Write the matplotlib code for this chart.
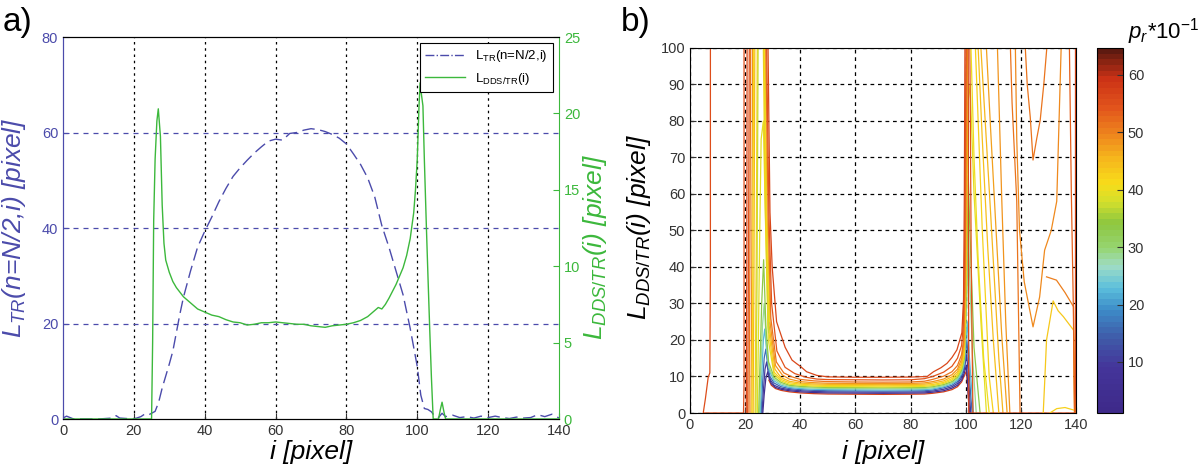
import numpy as np
import matplotlib
matplotlib.use("Agg")
import matplotlib.pyplot as plt
from matplotlib.colors import LinearSegmentedColormap, Normalize
from matplotlib.cm import ScalarMappable
from matplotlib.lines import Line2D

plt.rcParams['font.family'] = ['Liberation Sans', 'DejaVu Sans']
plt.rcParams['mathtext.fontset'] = 'custom'
plt.rcParams['mathtext.rm'] = 'Liberation Sans'
plt.rcParams['mathtext.it'] = 'Liberation Sans:italic'

# ---- panel a data ----
tr_i = [0, 1, 2, 3, 5, 10, 14, 15, 16, 20, 22, 23, 24, 25, 26, 27, 28, 30, 31, 33, 34, 36, 38, 40,
        42, 44, 46, 48, 50, 52, 54, 56, 58, 60, 62, 64, 66, 68, 70, 72, 74, 76, 78, 80, 82, 84, 86,
        88, 90, 92, 94, 96, 98, 99, 100, 101, 102, 103, 104, 105, 106, 107, 108, 110, 112, 114, 116,
        118, 120, 122, 124, 126, 128, 130, 132, 134, 136, 138, 140]
tr_L = [0.2, 0.6, 0.3, 0, 0, 0, 0.2, 0.7, 0.2, 0, 0.5, 1.0, 0.8, 1.2, 1.6, 3.5, 6.5, 11.5, 14.2, 22,
        25.5, 31, 36, 39.3, 42.3, 45.5, 48.3, 50.8, 52.6, 54.2, 55.7, 57, 58.2, 58.6, 58.4, 59.8, 60,
        60.5, 60.8, 60.6, 60.2, 59.6, 58.8, 57.6, 55.5, 53.3, 50.5, 46.5, 40.5, 36, 31, 26, 19, 15,
        11, 5, 2.2, 2, 1.5, 0.5, 0.3, 1.2, 0.5, 0.8, 0.3, 0.5, 0.2, 0.6, 0.3, 0.6, 0.3, 0.1, 0.4,
        0.2, 0.3, 0.9, 0.5, 1.0, 0.2]

dds_i = [0, 10, 20, 25, 25.3, 25.6, 26, 26.5, 26.9, 27.5, 28, 28.5, 29, 30, 31, 32, 33, 34, 36, 38,
         40, 42, 44, 46, 48, 50, 52, 54, 56, 58, 60, 62, 64, 66, 68, 70, 72, 74, 76, 78, 80, 82, 84,
         86, 88, 89, 90, 91, 92, 94, 96, 97, 98, 99, 99.5, 100, 100.5, 100.8, 101.2, 101.6, 102,
         102.6, 103, 103.5, 104, 104.5, 106, 106.5, 107, 107.5, 108, 110, 140]
dds_L = [0, 0, 0, 0, 5, 13, 17, 19.5, 20.3, 18.5, 14, 11.5, 10.4, 9.6, 9.0, 8.6, 8.3, 8.0, 7.6, 7.2,
         7.0, 6.8, 6.7, 6.5, 6.35, 6.3, 6.15, 6.2, 6.3, 6.3, 6.35, 6.3, 6.25, 6.2, 6.2, 6.1, 6.05,
         6.0, 6.1, 6.15, 6.2, 6.3, 6.45, 6.7, 7.1, 7.3, 7.2, 7.5, 7.9, 8.8, 9.9, 10.7, 11.8, 13.5,
         15, 17, 20.5, 22, 21.2, 20.5, 17, 12.4, 9.5, 6, 2.7, 0, 0, 0.6, 1.1, 0.5, 0, 0, 0]

# ---- panel b data: contour lines of p_r*10^-1 ----
cont_levels = [55, 57, 5, 10, 16, 22, 28, 33, 39, 42, 45, 48, 51, 54, 56,
               49, 51, 43, 50, 42, 53, 40, 44, 47, 37, 41]
cont_i = [
    [7.4, 7.4, 7.2, 6.6, 5.6, 4.8, 19.4, 19.6, 19.6],
    [28.6, 29.5, 31, 33, 36, 40, 45, 50, 60, 70, 80, 85, 88, 92, 95, 97, 98.5, 99.5, 100.3, 100.8, 101.3],
    [26.4, 26.9, 27.5, 28.2, 28.7, 29.5, 31, 33, 36, 40, 45, 50, 60, 70, 80, 85, 88, 92, 95, 97, 98.5, 99.5, 100.2, 100.6, 101, 101.4],
    [26.1, 26.6, 27.2, 27.8, 28.4, 29.2, 30.5, 33, 36, 40, 45, 50, 60, 70, 80, 85, 88, 92, 95, 97, 98.5, 99.5, 100.3, 100.8, 101.3, 101.8],
    [25.8, 26.3, 26.9, 27.5, 28.2, 29, 30.5, 33, 36, 40, 45, 50, 60, 70, 80, 85, 88, 92, 95, 97, 98.5, 99.5, 100.4, 100.9, 101.6, 102.3],
    [25.5, 26.0, 26.6, 27.1, 27.9, 28.8, 30.5, 33, 36, 40, 45, 50, 60, 70, 80, 85, 88, 92, 95, 97, 98.5, 99.5, 100.5, 101.0, 101.9, 102.8],
    [25.2, 25.7, 26.3, 26.9, 27.7, 28.6, 30.5, 33, 36, 40, 45, 50, 60, 70, 80, 85, 88, 92, 95, 97, 98.5, 99.5, 100.4, 100.9, 101.4, 102.5, 103.8],
    [24.9, 25.4, 26.0, 26.7, 27.5, 28.5, 30.5, 33, 36, 40, 45, 50, 60, 70, 80, 85, 88, 92, 95, 97, 98.5, 99.5, 100.3, 100.9, 101.5, 103, 105.2],
    [24.4, 24.8, 25.3, 25.8, 26.6, 27.3, 28.4, 30.5, 33, 36, 40, 45, 50, 60, 70, 80, 85, 88, 92, 95, 97, 98.5, 99.5, 100.2, 100.8, 101.6, 103, 105.5, 107.5],
    [23.6, 24.0, 24.4, 25.2, 26.6, 27.2, 28.3, 30.5, 33, 36, 40, 45, 50, 60, 70, 80, 85, 88, 92, 95, 97, 98.5, 99.5, 100.1, 100.6, 102, 103.5, 106, 108.5, 110],
    [22.9, 23.2, 23.5, 25, 26.9, 27.6, 28.7, 30.8, 33, 36, 40, 45, 50, 60, 70, 80, 85, 88, 92, 95, 97, 98.5, 99.4, 100.0, 100.5, 102, 105.5, 109, 112, 113.5],
    [22.1, 22.4, 22.7, 25, 27.2, 27.9, 29, 31, 33.5, 36, 40, 45, 50, 60, 70, 80, 85, 88, 92, 95, 97, 98.5, 99.3, 99.9, 100.4, 104, 111.5, 113, 114.5, 116],
    [21.4, 21.7, 22.0, 25, 27.5, 28.3, 29.3, 31.3, 34, 37, 40, 45, 50, 60, 70, 80, 85, 88, 92, 95, 97, 98.5, 99.2, 99.8, 100.3, 110, 116.2, 116.8, 118.5, 119.7],
    [20.9, 21.2, 21.5, 25, 27.8, 28.6, 29.6, 31.5, 34.5, 38, 42, 46, 50, 60, 70, 80, 85, 88, 92, 95, 97, 98.5, 99.1, 99.6, 100.1, 100.8, 101.5, 102, 102.6],
    [20.4, 20.6, 20.7, 25, 28.3, 29.0, 29.8, 31.4, 34.5, 37, 38.7, 40, 42.3, 46, 50, 60, 70, 80, 86, 88.3, 91, 93.2, 95, 96.8, 98.6, 99.2, 99.5, 99.7, 100.2, 100.9, 101.1, 139.8, 139.8],
    [118, 118.5, 119.5, 121.2, 124.4, 126.8, 128.6, 131, 133, 134.6],
    [121.6, 122.3, 123.4, 124.4, 125.7, 127, 128.3, 129.4],
    [128.1, 128.6, 129.3, 131.7, 133.5, 135.4, 139.1, 139.5],
    [129.3, 132.9, 136, 139.1, 139.4],
    [130.5, 133, 136, 139.2],
    [137.6, 138.3, 139, 139.5],
    [101.9, 103, 104.5, 106.5, 108.5],
    [104.5, 106, 108, 110, 112],
    [107.5, 109, 111, 113, 115],
    [23.9, 24.3, 24.7, 25.5, 26.9, 27.5, 28.5],
    [22.5, 22.8, 23.1, 25, 27.0, 27.7, 28.8],
]
cont_L = [
    [100, 40, 11, 9.8, 4, 0, 0, 8, 100],
    [9.0, 7.6, 6.7, 6.2, 5.8, 5.5, 5.3, 5.2, 5.15, 5.1, 5.15, 5.2, 5.4, 5.8, 6.4, 7.2, 8.5, 10.3, 11.5, 6, 0],
    [0, 5, 9.5, 11.3, 9.5, 8.0, 7.0, 6.5, 6.1, 5.8, 5.6, 5.5, 5.45, 5.4, 5.45, 5.5, 5.7, 6.1, 6.8, 7.6, 9, 11, 13, 9, 4, 0],
    [0, 6, 12, 14, 11, 9, 7.6, 6.8, 6.4, 6.1, 5.9, 5.8, 5.75, 5.7, 5.75, 5.8, 6.0, 6.5, 7.2, 8.1, 9.7, 12, 16, 12, 6, 0],
    [0, 8, 15, 17.5, 13, 10, 8.2, 7.2, 6.7, 6.4, 6.2, 6.1, 6.05, 6.0, 6.05, 6.1, 6.3, 6.9, 7.6, 8.6, 10.3, 12.8, 20, 15, 7, 0],
    [0, 10, 20, 23, 16, 11.5, 8.8, 7.6, 7.0, 6.7, 6.5, 6.4, 6.35, 6.3, 6.35, 6.4, 6.6, 7.2, 8.0, 9.0, 10.8, 13.5, 25, 19, 9, 0],
    [0, 12, 24, 30, 19, 12.5, 9.3, 8.0, 7.3, 7.0, 6.8, 6.7, 6.65, 6.6, 6.65, 6.7, 6.9, 7.5, 8.3, 9.4, 11.3, 14.2, 30, 50, 38, 15, 0],
    [0, 14, 30, 42, 24, 14, 9.8, 8.4, 7.6, 7.3, 7.1, 7.0, 6.95, 6.9, 6.95, 7.0, 7.2, 7.8, 8.6, 9.8, 11.8, 15, 35, 65, 50, 18, 0],
    [0, 20, 50, 75, 80, 55, 20, 10.5, 8.8, 7.9, 7.6, 7.35, 7.25, 7.2, 7.15, 7.2, 7.3, 7.5, 8.1, 9.0, 10.2, 12.3, 16, 40, 85, 90, 60, 25, 0],
    [0, 40, 100, 115, 100, 60, 24, 11.2, 9.2, 8.3, 7.9, 7.65, 7.55, 7.5, 7.45, 7.5, 7.6, 7.8, 8.4, 9.4, 10.7, 13, 17, 40, 100, 115, 100, 50, 10, 0],
    [0, 40, 100, 115, 100, 55, 24, 12, 9.7, 8.7, 8.2, 7.95, 7.85, 7.8, 7.75, 7.8, 7.9, 8.2, 8.8, 9.9, 11.3, 13.8, 18, 40, 100, 115, 100, 55, 15, 0],
    [0, 40, 100, 115, 100, 55, 25, 13, 10.4, 9.3, 8.6, 8.3, 8.15, 8.1, 8.05, 8.1, 8.25, 8.6, 9.3, 10.5, 12, 14.8, 19, 40, 100, 115, 100, 60, 25, 0],
    [0, 40, 100, 115, 100, 55, 26, 14, 11, 9.9, 9.2, 8.8, 8.6, 8.5, 8.45, 8.5, 8.7, 9.2, 10.1, 11.3, 13, 16, 20, 40, 100, 115, 100, 85, 58, 0],
    [0, 40, 100, 115, 100, 55, 30, 17, 12.5, 10.8, 9.8, 9.3, 9.15, 9.1, 9.05, 9.1, 9.4, 10, 11.2, 12.8, 15, 18.5, 24, 45, 100, 110, 100, 40, 0],
    [0, 40, 100, 115, 100, 55, 40, 25, 18, 14.5, 13.5, 12.8, 11.3, 10.3, 9.9, 9.8, 9.8, 9.85, 10, 11.3, 12.4, 13.6, 15.2, 17.3, 22, 31, 60, 100, 110, 100, 0, 0, 100],
    [100, 75, 50, 36, 23.6, 31.8, 44.6, 50, 58, 100],
    [100, 90, 81, 69.3, 75, 80.2, 90, 100],
    [0, 8, 20, 30.7, 28, 26.4, 22.7, 0],
    [37.3, 36.4, 33, 29.1, 0],
    [0, 1.2, 1.5, 0.8],
    [100, 60, 30, 0],
    [100, 70, 42, 15, 0],
    [100, 75, 45, 20, 0],
    [100, 78, 50, 22, 0],
    [0, 35, 100, 115, 100, 60, 22],
    [0, 40, 100, 115, 100, 55, 25],
]

cbar_ticks = [10, 20, 30, 40, 50, 60]

blue = '#4b4bab'
green = '#3cb83c'

fig = plt.figure(figsize=(12, 4.69), dpi=100)

# ---------------- panel a ----------------
ax1 = fig.add_axes([0.0525, 0.1066, 0.4133, 0.8145])
ax2 = ax1.twinx()
ax1.plot(tr_i, tr_L, color=blue, lw=1.0, dashes=(9, 4))
ax2.plot(dds_i, dds_L, color=green, lw=1.0)
ax1.set_xlim(0, 140)
ax1.set_ylim(0, 80)
ax2.set_ylim(0, 25)
ax1.set_xticks(range(0, 141, 20))
ax1.set_yticks(range(0, 81, 20))
ax2.set_yticks(range(0, 26, 5))
for x in range(20, 140, 20):
    ax1.axvline(x, color='black', lw=0.9, ls=(0, (2, 3)), zorder=0)
for y in [20, 40, 60]:
    ax1.axhline(y, color=blue, lw=0.9, ls=(0, (4, 4)), zorder=0)
ax1.tick_params(direction='in', length=4, labelsize=10.5)
ax1.tick_params(axis='x', colors='#333333')
ax1.tick_params(axis='y', colors=blue)
ax2.tick_params(direction='in', length=4, labelsize=10.5, colors=green)
ax1.spines['left'].set_color(blue)
ax2.spines['left'].set_color(blue)
ax2.spines['right'].set_color(green)
ax1.spines['right'].set_visible(False)
ax1.set_xlabel('i [pixel]', fontsize=19, style='italic')
ax1.xaxis.set_label_coords(0.5, -0.055)
ax1.set_ylabel(r'$L_{TR}$(n=N/2,i) [pixel]', fontsize=19, style='italic', color=blue)
ax1.yaxis.set_label_coords(-0.07, 0.5)
ax2.set_ylabel(r'$L_{DDS/TR}$(i) [pixel]', fontsize=19, style='italic', color=green,
               rotation=90)
ax2.yaxis.set_label_coords(1.045, 0.45)

handles = [Line2D([], [], color=blue, lw=1.0, ls='-.'),
           Line2D([], [], color=green, lw=1.0)]
leg = ax2.legend(handles, [r'L$_\mathrm{TR}$(n=N/2,i)', r'L$_\mathrm{DDS/TR}$(i)'],
                 loc='upper right', bbox_to_anchor=(0.988, 0.984), borderaxespad=0,
                 fontsize=9.5, fancybox=False, framealpha=1, edgecolor='black',
                 handlelength=3.0)
leg.get_frame().set_linewidth(0.8)

fig.text(0.002, 0.985, 'a)', fontsize=24, va='top', ha='left')

# ---------------- panel b ----------------
cmap = LinearSegmentedColormap.from_list('pr', [
    (0.0, '#3e2a8a'), (0.12, '#44359a'), (0.2, '#3f5aa8'), (0.28, '#3d8cc8'),
    (0.34, '#5bbfdc'), (0.40, '#9fdcc6'), (0.45, '#96d572'), (0.52, '#8dc63f'),
    (0.58, '#d4e02c'), (0.63, '#f7dc1a'), (0.70, '#f6b61c'), (0.76, '#ef8a1d'),
    (0.84, '#e2551c'), (0.92, '#cc3216'), (1.0, '#5e1a10')], N=64)
norm = Normalize(vmin=1.1, vmax=64.7)

axb = fig.add_axes([0.575, 0.1194, 0.3217, 0.7783])
for lvl, xs, ys in zip(cont_levels, cont_i, cont_L):
    axb.plot(xs, ys, color=cmap(norm(lvl)), lw=0.9)
axb.set_xlim(0, 140)
axb.set_ylim(0, 100)
axb.set_xticks(range(0, 141, 20))
axb.set_yticks(range(0, 101, 10))
axb.grid(True, color='black', lw=0.9, ls=(0, (3, 3)))
axb.set_axisbelow(True)
axb.tick_params(direction='in', length=4, labelsize=10.5, colors='#333333')
axb.set_xlabel('i [pixel]', fontsize=19, style='italic')
axb.xaxis.set_label_coords(0.5, -0.074)
axb.set_ylabel(r'$L_{DDS/TR}$(i) [pixel]', fontsize=19, style='italic')
axb.yaxis.set_label_coords(-0.095, 0.51)
fig.text(0.517, 0.985, 'b)', fontsize=24, va='top', ha='left')

cax = fig.add_axes([0.9142, 0.1194, 0.0217, 0.7783])
sm = ScalarMappable(norm=norm, cmap=cmap)
cb = fig.colorbar(sm, cax=cax, ticks=cbar_ticks)
cb.ax.tick_params(direction='in', length=4, labelsize=10.5, colors='#333333')
cb.outline.set_linewidth(0.8)
fig.text(0.940, 0.965, r'$p_r$*$10^{-1}$', fontsize=16, style='italic', va='top', ha='left')

fig.savefig('out.png', dpi=100)
